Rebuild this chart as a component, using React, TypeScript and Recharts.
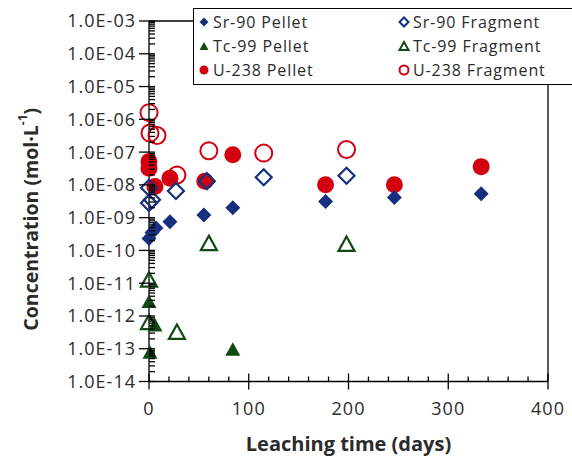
import React from 'react';
import { ScatterChart, Scatter, XAxis, YAxis, Legend, ReferenceLine } from 'recharts';

// Leaching time (days) vs. concentration (mol/L)
const srPellet = [
  { day: 0, conc: 2.3e-10 },
  { day: 3, conc: 3.5e-10 },
  { day: 7, conc: 4.8e-10 },
  { day: 21, conc: 7.5e-10 },
  { day: 55, conc: 1.2e-9 },
  { day: 84, conc: 2.0e-9 },
  { day: 177, conc: 3.1e-9 },
  { day: 246, conc: 4.1e-9 },
  { day: 333, conc: 5.4e-9 },
];
const srFragment = [
  { day: 0, conc: 8.2e-9 },
  { day: 0, conc: 2.8e-9 },
  { day: 3, conc: 3.5e-9 },
  { day: 27, conc: 6.5e-9 },
  { day: 58, conc: 1.3e-8 },
  { day: 115, conc: 1.7e-8 },
  { day: 198, conc: 1.9e-8 },
];
const tcPellet = [
  { day: 0, conc: 2.8e-12 },
  { day: 6, conc: 5.4e-13 },
  { day: 1, conc: 8.0e-14 },
  { day: 84, conc: 9.8e-14 },
];
const tcFragment = [
  { day: 0, conc: 1.3e-11 },
  { day: 0, conc: 6.6e-13 },
  { day: 28, conc: 3.3e-13 },
  { day: 60, conc: 1.7e-10 },
  { day: 198, conc: 1.6e-10 },
];
const uPellet = [
  { day: 0, conc: 5.2e-8 },
  { day: 0, conc: 3.2e-8 },
  { day: 6, conc: 8.9e-9 },
  { day: 21, conc: 1.6e-8 },
  { day: 56, conc: 1.3e-8 },
  { day: 84, conc: 8.3e-8 },
  { day: 177, conc: 1.0e-8 },
  { day: 246, conc: 1.0e-8 },
  { day: 333, conc: 3.6e-8 },
];
const uFragment = [
  { day: 0, conc: 1.6e-6 },
  { day: 1, conc: 3.8e-7 },
  { day: 8, conc: 3.2e-7 },
  { day: 28, conc: 2.0e-8 },
  { day: 60, conc: 1.1e-7 },
  { day: 115, conc: 9.3e-8 },
  { day: 198, conc: 1.2e-7 },
];

const X_MIN = 0;
const X_MAX = 400;
const Y_MIN = 1e-14;
const Y_MAX = 1e-3;
const xMajorTicks = [0, 100, 200, 300, 400];
const xMinorTicks = [20, 40, 60, 80, 120, 140, 160, 180, 220, 240, 260, 280, 320, 340, 360, 380];
const yExponents = [-14, -13, -12, -11, -10, -9, -8, -7, -6, -5, -4, -3];
const yMajorTicks = yExponents.map((e) => Math.pow(10, e));
const yMinorTicks = yExponents.slice(0, -1).flatMap((e) =>
  [2, 3, 4, 5, 6, 7, 8, 9].map((m) => m * Math.pow(10, e))
);

const NAVY = '#16307f';
const GREEN = '#114a14';
const RED = '#d3000f';
const FONT = '"Open Sans", sans-serif';
const TEXT = '#2b2b2b';
const LINE = '#000';
const LINE_W = 1.3;

type Kind = 'diamond' | 'triangle' | 'circle';
interface MarkerStyle { kind: Kind; color: string; filled: boolean; }

const styles: Record<string, MarkerStyle> = {
  'Sr-90 Pellet': { kind: 'diamond', color: NAVY, filled: true },
  'Sr-90 Fragment': { kind: 'diamond', color: NAVY, filled: false },
  'Tc-99 Pellet': { kind: 'triangle', color: GREEN, filled: true },
  'Tc-99 Fragment': { kind: 'triangle', color: GREEN, filled: false },
  'U-238 Pellet': { kind: 'circle', color: RED, filled: true },
  'U-238 Fragment': { kind: 'circle', color: RED, filled: false },
};
const legendOrder = [
  'Sr-90 Pellet', 'Sr-90 Fragment',
  'Tc-99 Pellet', 'Tc-99 Fragment',
  'U-238 Pellet', 'U-238 Fragment',
];

function markerPath(kind: Kind, cx: number, cy: number, s: number) {
  if (kind === 'diamond') {
    return `M${cx},${cy - s}L${cx + s},${cy}L${cx},${cy + s}L${cx - s},${cy}Z`;
  }
  const h = s * 1.8;
  return `M${cx},${cy - h / 2}L${cx + s},${cy + h / 2}L${cx - s},${cy + h / 2}Z`;
}

function Marker({ cx, cy, st, size, sw }: { cx: number; cy: number; st: MarkerStyle; size: number; sw: number }) {
  const stroke = st.filled ? 'none' : st.color;
  if (st.kind === 'circle') {
    return <circle cx={cx} cy={cy} r={size} fill={st.filled ? st.color : 'none'} stroke={stroke} strokeWidth={sw} />;
  }
  return (
    <path
      d={markerPath(st.kind, cx, cy, size)}
      fill={st.filled ? st.color : 'none'}
      stroke={stroke}
      strokeWidth={sw}
      strokeLinejoin="miter"
    />
  );
}

const plotSize: Record<string, { size: number; sw: number }> = {
  'Sr-90 Pellet': { size: 7.5, sw: 0 },
  'Sr-90 Fragment': { size: 8, sw: 2.2 },
  'Tc-99 Pellet': { size: 7.5, sw: 0 },
  'Tc-99 Fragment': { size: 8, sw: 2.2 },
  'U-238 Pellet': { size: 8.5, sw: 0 },
  'U-238 Fragment': { size: 8.5, sw: 2 },
};

const shapeFor = (name: string) => (props: any) => {
  const { cx, cy } = props;
  if (cx == null || cy == null) return <g />;
  return <Marker cx={cx} cy={cy} st={styles[name]} size={plotSize[name].size} sw={plotSize[name].sw} />;
};

const formatExp = (v: number) => {
  const e = Math.round(Math.log10(v));
  return `1.0E${e < 0 ? '-' : '+'}${String(Math.abs(e)).padStart(2, '0')}`;
};
const isDecade = (v: number) => Math.abs(Math.log10(v) - Math.round(Math.log10(v))) < 1e-9;

// tick geometry
const Y_TICK_OUT = 10;
const Y_TICK_MARGIN = 3;
const Y_TICK_IN = 6;
const X_TICK_OUT = 8;
const X_TICK_MARGIN = 13;
const X_MAJOR_IN = 8;
const X_MINOR_IN = 5;
const TICK_FONT = 18;

// y ticks: label + outer/inner marks for decades, inner marks for the rest
const YTick = (props: any) => {
  const { x, y, payload } = props;
  const v = payload.value;
  const ax = x + Y_TICK_OUT + Y_TICK_MARGIN;
  const major = isDecade(v);
  return (
    <g>
      {major && <line x1={ax - Y_TICK_OUT} x2={ax} y1={y} y2={y} stroke={LINE} strokeWidth={LINE_W} />}
      <line x1={ax} x2={ax + Y_TICK_IN} y1={y} y2={y} stroke={LINE} strokeWidth={LINE_W} />
      {major && (
        <text x={x} y={y} dy="0.36em" textAnchor="end" fontFamily={FONT} fontSize={TICK_FONT} letterSpacing={1} fill={TEXT}>
          {formatExp(v)}
        </text>
      )}
    </g>
  );
};

const XTick = (props: any) => {
  const { x, y, payload } = props;
  const d = payload.value;
  const ay = y - X_TICK_OUT - X_TICK_MARGIN;
  const major = xMajorTicks.includes(d);
  return (
    <g>
      {major && <line x1={x} x2={x} y1={ay} y2={ay + X_TICK_OUT} stroke={LINE} strokeWidth={LINE_W} />}
      <line x1={x} x2={x} y1={ay} y2={ay - (major ? X_MAJOR_IN : X_MINOR_IN)} stroke={LINE} strokeWidth={LINE_W} />
      {major && (
        <text x={x} y={y} dy="0.71em" textAnchor="middle" fontFamily={FONT} fontSize={TICK_FONT} letterSpacing={1} fill={TEXT}>
          {d}
        </text>
      )}
    </g>
  );
};

const LegendBox = (props: any) => {
  const names: string[] = (props.payload || []).map((p: any) => p.value);
  const ordered = legendOrder.filter((n) => names.includes(n));
  return (
    <div style={{ position: 'relative', width: '100%', height: '100%' }}>
      {ordered.map((name, i) => {
        const col = i % 2;
        const row = Math.floor(i / 2);
        const left = col === 0 ? 3 : 203;
        const top = 2 + row * 24;
        return (
          <div
            key={name}
            style={{
              position: 'absolute', left, top, height: 22, display: 'flex',
              alignItems: 'center', fontFamily: FONT, fontSize: 16, letterSpacing: 0.9,
              color: TEXT, whiteSpace: 'nowrap',
            }}
          >
            <svg width={14} height={14} style={{ marginRight: 2 }}>
              <Marker cx={7} cy={7} st={styles[name]} size={4.5} sw={styles[name].filled ? 0 : 2} />
            </svg>
            <span>{name}</span>
          </div>
        );
      })}
    </div>
  );
};

const YTitle = (props: any) => {
  const vb = props.viewBox || { x: 0, y: 0, width: 0, height: 0 };
  const x = vb.x + 30;
  const y = vb.y + vb.height / 2 + 18;
  return (
    <text
      x={x}
      y={y}
      transform={`rotate(-90, ${x}, ${y})`}
      textAnchor="middle"
      dominantBaseline="central"
      fontFamily={FONT}
      fontWeight={700}
      fontSize={19.5}
      fill={TEXT}
    >
      Concentration (mol·L
      <tspan fontSize={12} dy={-8}>-1</tspan>
      <tspan dy={8}>)</tspan>
    </text>
  );
};

const XTitle = (props: any) => {
  const vb = props.viewBox || { x: 0, y: 0, width: 0, height: 0 };
  return (
    <text
      x={vb.x + vb.width / 2}
      y={vb.y + 62}
      textAnchor="middle"
      dominantBaseline="central"
      fontFamily={FONT}
      fontWeight={700}
      fontSize={20}
      fill={TEXT}
    >
      Leaching time (days)
    </text>
  );
};

const axisStroke = { stroke: LINE, strokeWidth: LINE_W };

export default function App() {
  const series: [string, { day: number; conc: number }[]][] = [
    ['U-238 Pellet', uPellet],
    ['U-238 Fragment', uFragment],
    ['Sr-90 Pellet', srPellet],
    ['Sr-90 Fragment', srFragment],
    ['Tc-99 Pellet', tcPellet],
    ['Tc-99 Fragment', tcFragment],
  ];
  const xTicks = [...xMajorTicks, ...xMinorTicks].sort((a, b) => a - b);
  const yTicks = [...yMajorTicks, ...yMinorTicks].sort((a, b) => a - b);
  return (
    <div style={{ position: 'absolute', left: 0, top: 0, width: 572, height: 466, overflow: 'hidden', background: '#fff' }}>
      <ScatterChart width={572} height={466} margin={{ top: 21, right: 24, bottom: 0, left: 0 }}>
        <XAxis
          xAxisId="x"
          type="number"
          dataKey="day"
          domain={[X_MIN, X_MAX]}
          ticks={xTicks}
          interval={0}
          height={84.5}
          tickSize={X_TICK_OUT}
          tickMargin={X_TICK_MARGIN}
          tick={<XTick />}
          axisLine={axisStroke}
          tickLine={false}
          label={<XTitle />}
        />
        <YAxis
          yAxisId="y"
          type="number"
          dataKey="conc"
          scale="log"
          domain={[Y_MIN, Y_MAX]}
          ticks={yTicks}
          interval={0}
          width={149}
          tickSize={Y_TICK_OUT}
          tickMargin={Y_TICK_MARGIN}
          tick={<YTick />}
          axisLine={axisStroke}
          tickLine={false}
          label={<YTitle />}
        />
        {/* plot frame: top and right edges */}
        <ReferenceLine xAxisId="x" yAxisId="y" y={Y_MAX} stroke={LINE} strokeWidth={LINE_W} ifOverflow="visible" />
        <ReferenceLine xAxisId="x" yAxisId="y" x={X_MAX} stroke={LINE} strokeWidth={LINE_W} ifOverflow="visible" />
        {series.map(([name, data]) => (
          <Scatter
            key={name}
            name={name}
            data={data}
            xAxisId="x"
            yAxisId="y"
            fill={styles[name].color}
            shape={shapeFor(name)}
            isAnimationActive={false}
          />
        ))}
        <Legend
          layout="horizontal"
          verticalAlign="middle"
          align="center"
          content={<LegendBox />}
          wrapperStyle={{
            position: 'absolute', left: 193, top: 8, width: 400, height: 77,
            border: '1.3px solid #000', background: '#fff', boxSizing: 'border-box',
          }}
        />
      </ScatterChart>
    </div>
  );
}
